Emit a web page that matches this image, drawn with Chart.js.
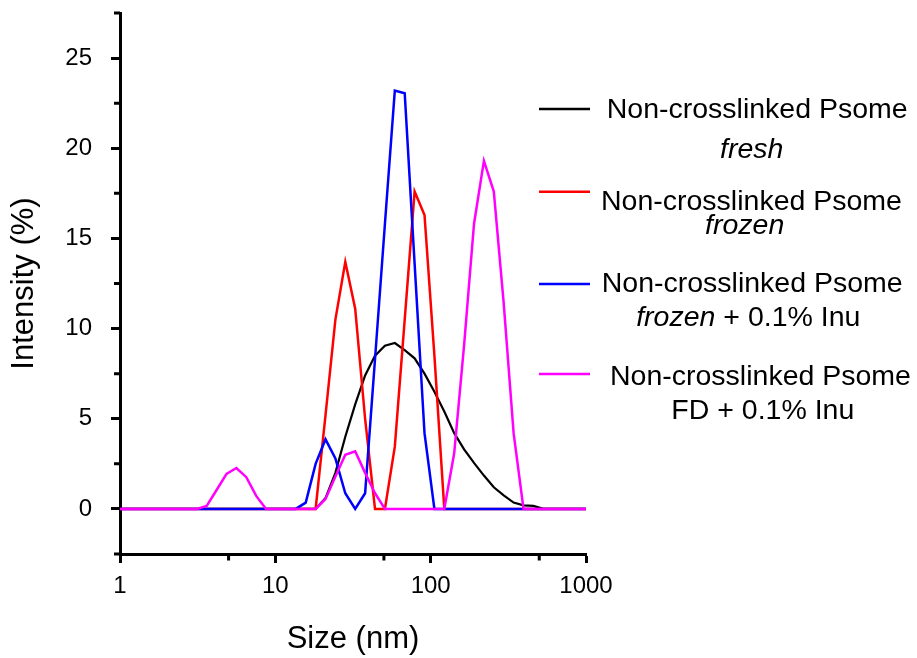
<!DOCTYPE html>
<html>
<head>
<meta charset="utf-8">
<script src="https://cdn.jsdelivr.net/npm/chart.js@4.4.1/dist/chart.umd.min.js"></script>
<style>
  html, body { margin: 0; padding: 0; background: #fff; }
  #wrap { width: 917px; height: 658px; }
</style>
</head>
<body>
<div id="wrap"><canvas id="dlsChart" width="917" height="658"></canvas></div>
<script>
// Tamaños de partícula (nm), bins logarítmicos del equipo
const sizes = [0.9649, 1.117, 1.294, 1.499, 1.736, 2.01, 2.328, 2.696, 3.122, 3.615,
  4.187, 4.849, 5.615, 6.503, 7.531, 8.721, 10.1, 11.7, 13.54, 15.69,
  18.17, 21.04, 24.36, 28.21, 32.67, 37.84, 43.82, 50.75, 58.77, 68.06,
  78.82, 91.28, 105.7, 122.4, 141.8, 164.2, 190.1, 220.2, 255.0, 295.3,
  342.0, 396.1, 458.7, 531.2, 615.1, 712.4, 825.0, 955.4, 1106];

// Intensidad (%) por serie
const fresh = [0, 0, 0, 0, 0, 0, 0, 0, 0, 0,
  0, 0, 0, 0, 0, 0, 0, 0, 0, 0,
  0, 0.6, 2.0, 4.0, 5.8, 7.4, 8.5, 9.05, 9.2, 8.8,
  8.35, 7.5, 6.5, 5.4, 4.2, 3.3, 2.55, 1.85, 1.2, 0.75,
  0.35, 0.2, 0.17, 0, 0, 0, 0, 0, 0];
const frozen = [0, 0, 0, 0, 0, 0, 0, 0, 0, 0,
  0, 0, 0, 0, 0, 0, 0, 0, 0, 0,
  0, 5.2, 10.5, 13.7, 11.1, 5.0, 0, 0, 3.45, 10.5,
  17.6, 16.3, 8.5, 0, 0, 0, 0, 0, 0, 0,
  0, 0, 0, 0, 0, 0, 0, 0, 0];
const frozenInu = [0, 0, 0, 0, 0, 0, 0, 0, 0, 0,
  0, 0, 0, 0, 0, 0, 0, 0, 0, 0.35,
  2.5, 3.86, 2.8, 0.87, 0, 0.87, 8.3, 15.8, 23.2, 23.05,
  13.6, 4.2, 0, 0, 0, 0, 0, 0, 0, 0,
  0, 0, 0, 0, 0, 0, 0, 0, 0];
const fdInu = [0, 0, 0, 0, 0, 0, 0, 0, 0, 0.17,
  1.05, 1.94, 2.27, 1.76, 0.72, 0, 0, 0, 0, 0,
  0, 0.55, 1.8, 3.0, 3.2, 2.0, 0.87, 0, 0, 0,
  0, 0, 0, 0, 3.1, 9.1, 15.8, 19.3, 17.6, 11.4,
  4.2, 0, 0, 0, 0, 0, 0, 0, 0];

// Ejes
const xTicks = [1, 10, 100, 1000];
const xMinorTicks = [5, 50, 500];
const yTicks = [0, 5, 10, 15, 20, 25];
const yMinorTicks = [-2.5, 2.5, 7.5, 12.5, 17.5, 22.5, 27.5];

// Leyenda
const seriesLabels = ['Non-crosslinked Psome', 'Non-crosslinked Psome', 'Non-crosslinked Psome', 'Non-crosslinked Psome'];
const seriesNotes = [
  [['fresh', true]],
  [['frozen', true]],
  [['frozen', true], [' + 0.1% Inu', false]],
  [['FD + 0.1% Inu', false]]
];
const seriesColors = ['#000000', '#ff0000', '#0000ff', '#ff00ff'];

const FONT = '"Liberation Sans", Arial, Helvetica, sans-serif';

const toPoints = vals => sizes.map((s, i) => ({ x: s, y: vals[i] }));

// Ticks menores (más cortos que los principales)
const minorTicksPlugin = {
  id: 'minorTicks',
  afterDraw(chart) {
    const { ctx, chartArea, scales: { x, y } } = chart;
    ctx.save();
    ctx.strokeStyle = '#000';
    ctx.lineWidth = 3;
    ctx.beginPath();
    xMinorTicks.forEach(v => {
      const px = x.getPixelForValue(v);
      ctx.moveTo(px, chartArea.bottom);
      ctx.lineTo(px, chartArea.bottom + 6.5);
    });
    yMinorTicks.forEach(v => {
      const py = y.getPixelForValue(v);
      ctx.moveTo(chartArea.left, py);
      ctx.lineTo(chartArea.left - 6, py);
    });
    ctx.stroke();
    ctx.restore();
  }
};

// Leyenda a mano: dos líneas por serie, la segunda con cursiva
const legendPlugin = {
  id: 'dlsLegend',
  afterDraw(chart, args, opts) {
    const ctx = chart.ctx;
    ctx.save();
    seriesLabels.forEach((label, i) => {
      ctx.strokeStyle = seriesColors[i];
      ctx.lineWidth = 2.5;
      ctx.beginPath();
      ctx.moveTo(opts.lineX1, opts.lineY[i]);
      ctx.lineTo(opts.lineX2, opts.lineY[i]);
      ctx.stroke();

      ctx.fillStyle = '#000';
      ctx.textBaseline = 'alphabetic';
      ctx.textAlign = 'left';
      ctx.font = `${opts.size}px ${FONT}`;
      ctx.fillText(label, opts.textX[i], opts.base1[i]);

      const parts = seriesNotes[i];
      const widths = parts.map(([t, it]) => {
        ctx.font = `${it ? 'italic ' : ''}${opts.size}px ${FONT}`;
        return ctx.measureText(t).width;
      });
      const total = widths.reduce((a, b) => a + b, 0);
      let cx = opts.center2[i] - total / 2;
      parts.forEach(([t, it], k) => {
        ctx.font = `${it ? 'italic ' : ''}${opts.size}px ${FONT}`;
        ctx.fillText(t, cx, opts.base2[i]);
        cx += widths[k];
      });
    });
    ctx.restore();
  }
};

const ctx = document.getElementById('dlsChart').getContext('2d');
new Chart(ctx, {
  type: 'line',
  data: {
    datasets: [
      { label: 'fresh', data: toPoints(fresh), borderColor: seriesColors[0], borderWidth: 2.2, order: 3 },
      { label: 'frozen', data: toPoints(frozen), borderColor: seriesColors[1], borderWidth: 2.5, order: 2 },
      { label: 'frozen + 0.1% Inu', data: toPoints(frozenInu), borderColor: seriesColors[2], borderWidth: 2.5, order: 1 },
      { label: 'FD + 0.1% Inu', data: toPoints(fdInu), borderColor: seriesColors[3], borderWidth: 2.5, order: 0 }
    ]
  },
  options: {
    responsive: false,
    animation: false,
    devicePixelRatio: 1,
    elements: { point: { radius: 0 }, line: { tension: 0, fill: false, borderJoinStyle: 'miter' } },
    layout: { padding: { top: 13, right: 331, left: 0, bottom: 0 } },
    plugins: {
      legend: { display: false },
      tooltip: { enabled: false },
      dlsLegend: {
        size: 28.5,
        lineX1: 539, lineX2: 590,
        lineY: [109, 191.7, 284, 374],
        textX: [606.7, 601, 601.7, 610],
        base1: [118.3, 210, 291.7, 385],
        base2: [157.7, 234.3, 326, 419.3],
        center2: [751.7, 744.7, 748.3, 762.8]
      }
    },
    scales: {
      x: {
        type: 'logarithmic',
        min: 1,
        max: 1000,
        afterBuildTicks: axis => { axis.ticks = xTicks.map(v => ({ value: v })); },
        afterFit: axis => {
          axis.height = 104;
          axis.paddingLeft = 0;
          axis.paddingRight = 0;
        },
        ticks: {
          callback: v => String(v),
          color: '#000',
          font: { family: FONT, size: 24 },
          padding: 9,
          maxRotation: 0,
          autoSkip: false
        },
        grid: { drawOnChartArea: false, drawTicks: true, tickLength: 9, tickWidth: 3, tickColor: '#000' },
        border: { display: true, color: '#000', width: 3 },
        title: {
          display: true,
          text: 'Size (nm)',
          color: '#000',
          font: { family: FONT, size: 31 },
          padding: { top: 0, bottom: 0 }
        }
      },
      y: {
        type: 'linear',
        min: -2.5,
        max: 27.5,
        afterBuildTicks: axis => { axis.ticks = yTicks.map(v => ({ value: v })); },
        afterFit: axis => {
          axis.width = 120;
          axis.paddingTop = 0;
          axis.paddingBottom = 0;
        },
        ticks: {
          callback: v => String(v),
          color: '#000',
          font: { family: FONT, size: 24 },
          padding: 19
        },
        grid: { drawOnChartArea: false, drawTicks: true, tickLength: 9, tickWidth: 3, tickColor: '#000' },
        border: { display: true, color: '#000', width: 3 },
        title: {
          display: true,
          text: 'Intensity (%)',
          color: '#000',
          font: { family: FONT, size: 31 },
          padding: { top: 6, bottom: 0 }
        }
      }
    }
  },
  plugins: [minorTicksPlugin, legendPlugin]
});
</script>
</body>
</html>
